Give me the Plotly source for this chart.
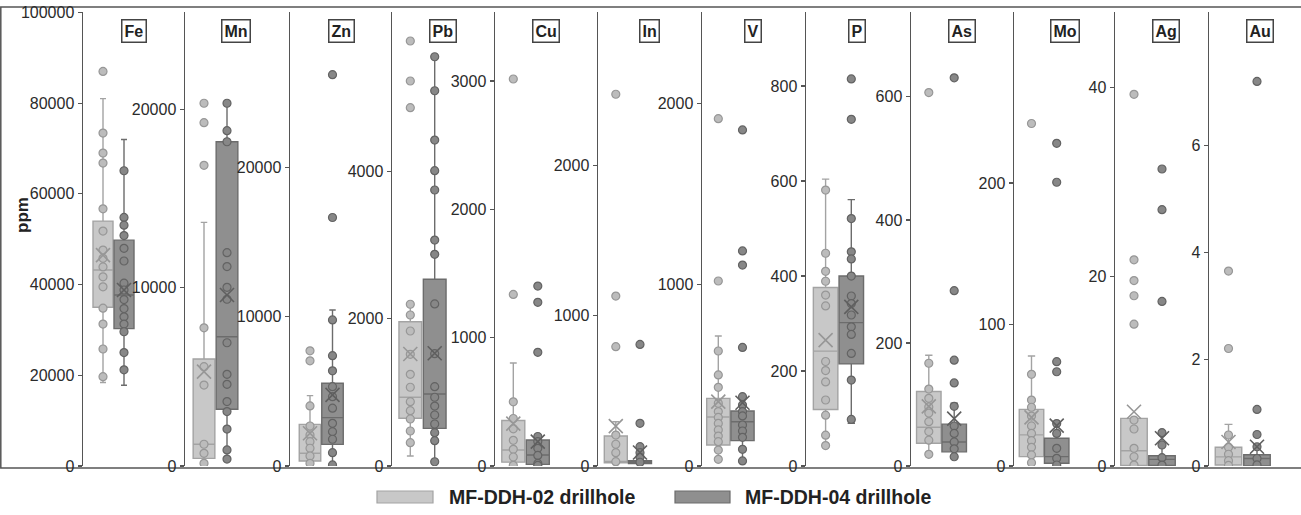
import plotly.graph_objects as go

# ---------------- data (ppm) ----------------
ELEMENTS = ["Fe", "Mn", "Zn", "Pb", "Cu", "In", "V", "P", "As", "Mo", "Ag", "Au"]
GROUPS = ["MF-DDH-02 drillhole", "MF-DDH-04 drillhole"]

# individual sample values, MF-DDH-02
FE_02 = [87000, 73400, 69000, 66800, 56700, 51800, 47600, 45800, 43900, 41700, 39500, 34800, 31300, 25800, 19700]
MN_02 = [20340, 19250, 16860, 7750, 5570, 4540, 1220, 710, 150]
ZN_02 = [7710, 7040, 4020, 2680, 2080, 1630, 1190, 670, 180]
PB_02 = [5776, 5232, 4870, 2198, 2052, 1835, 1518, 1246, 1070, 874, 752, 639, 476, 317]
CU_02 = [3015, 1337, 500, 370, 290, 200, 130, 70, 5]
IN_02 = [2476, 1132, 795, 206, 145, 89, 29]
V_02 = [1915, 1020, 634, 502, 434, 346, 300, 268, 235, 199, 165, 134, 88, 37]
P_02 = [581, 448, 410, 389, 360, 337, 220, 201, 177, 139, 107, 65, 43]
AS_02 = [607, 167, 125, 110, 96, 86, 72, 56, 42, 19]
MO_02 = [242, 64.8, 46.6, 41.5, 35.3, 28.3, 23, 17.9, 13.2, 7.8, 2.3]
AG_02 = [39.3, 21.8, 19.6, 18.0, 15.0, 4.86, 3.91, 1.87, 0.98, 0.1]
AU_02 = [3.65, 2.20, 0.58, 0.35, 0.22, 0.10, 0.01]

# individual sample values, MF-DDH-04
FE_04 = [65100, 54800, 53100, 50800, 48000, 45200, 40300, 38800, 36700, 34700, 32900, 31300, 29600, 25000, 21200]
MN_04 = [20340, 18800, 18180, 11960, 11180, 10020, 9350, 6910, 5140, 4580, 3610, 3050, 2070, 900, 390]
ZN_04 = [26200, 16640, 9780, 7390, 6370, 5310, 4640, 3870, 2860, 2300, 1790, 890, 70]
PB_04 = [5562, 5100, 4430, 4013, 3751, 3071, 2877, 2202, 1526, 1078, 934, 815, 693, 571, 453, 344, 58]
CU_04 = [1402, 1275, 886, 230, 190, 138, 82, 20, 5]
IN_04 = [810, 284, 129, 89, 58, 25]
V_04 = [1853, 1186, 1108, 654, 382, 336, 300, 276, 226, 193, 158, 92, 28]
P_04 = [815, 730, 521, 451, 436, 400, 358, 342, 318, 293, 277, 237, 181, 98]
AS_04 = [631, 285, 172, 135, 97, 65, 53, 39, 28, 15]
MO_04 = [228, 200.5, 73.7, 66.6, 30, 23, 12.5, 5.4, 0.7]
AG_04 = [31.4, 27.1, 17.4, 3.52, 2.22, 0.88, 0.1]
AU_04 = [7.20, 1.06, 0.59, 0.36, 0.14, 0.02]

# box statistics per element (same order as ELEMENTS)
Q1_02 = [35000, 430, 335, 648, 30, 22, 116, 119, 37, 6.6, 0.05, 0.02]
MED_02 = [43200, 1220, 850, 934, 125, 30, 270, 242, 63, 22, 1.62, 0.17]
Q3_02 = [54000, 6000, 2790, 1961, 355, 200, 373, 376, 121, 40, 5.04, 0.35]
LOW_02 = [18400, 150, 180, 136, 5, 22, 37, 43, 19, 2.3, 0.05, 0.0]
HIGH_02 = [81000, 13660, 4710, 2198, 803, 295, 717, 604, 180, 77.7, 5.04, 0.78]
MEAN_02 = [46500, 5290, 2190, 1522, 330, 266, 355, 265, 97, 34.4, 5.74, 0.45]

Q1_04 = [30300, 3180, 1450, 512, 13, 17, 140, 215, 23, 1.9, 0.05, 0.0]
MED_04 = [37700, 7250, 3240, 978, 86, 25, 244, 302, 39, 6.6, 0.7, 0.14]
Q3_04 = [49800, 18180, 5540, 2537, 203, 35, 303, 400, 68, 19.6, 1.09, 0.21]
LOW_04 = [17800, 390, 70, 58, 5, 10, 28, 90, 15, 0.7, 0.05, 0.0]
HIGH_04 = [72000, 20340, 10450, 5562, 241, 129, 382, 561, 102, 30, 3.52, 0.36]
MEAN_04 = [38800, 9590, 4760, 1532, 190, 90, 349, 335, 77, 28.5, 2.93, 0.36]

# axis scale and tick labels
YMAX = [100100, 25455, 30400, 6170, 3537, 3024, 2503, 956, 738, 320.8, 48.0, 8.50]
TICKS = [
    [0, 20000, 40000, 60000, 80000, 100000],
    [0, 10000, 20000],
    [0, 10000, 20000],
    [0, 2000, 4000],
    [0, 1000, 2000, 3000],
    [0, 1000, 2000],
    [0, 1000, 2000],
    [0, 200, 400, 600, 800],
    [0, 200, 400, 600],
    [0, 100, 200],
    [0, 20, 40],
    [0, 2, 4, 6],
]

POINTS_02 = [FE_02, MN_02, ZN_02, PB_02, CU_02, IN_02, V_02, P_02, AS_02, MO_02, AG_02, AU_02]
POINTS_04 = [FE_04, MN_04, ZN_04, PB_04, CU_04, IN_04, V_04, P_04, AS_04, MO_04, AG_04, AU_04]

# ---------------- layout (pixels) ----------------
W, H = 1301, 515
ML, MT, MB = 83, 12, 49
AX_PX = [83, 185, 290, 392, 495, 598, 702, 806, 911, 1014, 1115, 1209, 1301]
C1 = [20, 19, 20, 18.3, 18.3, 17.8, 16.3, 19.6, 17.8, 17.5, 19, 19.5]
C2 = [41, 42, 42.5, 42.7, 42.8, 42, 40.5, 45.3, 43.2, 42.7, 47, 48]
BW = [20, 21.7, 21.5, 22.7, 23, 23, 23.2, 24.5, 24.5, 24.5, 26.5, 26.5]
PW = W - ML
PH = H - MT - MB

def px_x(p):
    return (p - ML) / PW

def px_y(p):
    return (H - MB - p) / PH

STYLE = [
    dict(fill="#c8c8c8", line="#a3a3a3", pt="#bcbcbc", ptline="#979797", mean="#979797"),
    dict(fill="#8f8f8f", line="#6c6c6c", pt="#878787", ptline="#636363", mean="#5f5f5f"),
]
AXCOL = "#555555"
TXT = "#2b2b2b"
FONT = "Liberation Sans, Arial, sans-serif"

fig = go.Figure()
annotations = []
layout_axes = {}

for i, el in enumerate(ELEMENTS):
    n = "" if i == 0 else str(i + 1)
    xa, ya = "x" + n, "y" + n
    stats = [
        (Q1_02[i], MED_02[i], Q3_02[i], LOW_02[i], HIGH_02[i], MEAN_02[i], POINTS_02[i]),
        (Q1_04[i], MED_04[i], Q3_04[i], LOW_04[i], HIGH_04[i], MEAN_04[i], POINTS_04[i]),
    ]
    centers = [C1[i], C2[i]]
    for g, (q1, med, q3, lo, hi, mean, pts) in enumerate(stats):
        st = STYLE[g]
        xc = centers[g]
        fig.add_trace(go.Box(
            x=[xc], q1=[q1], median=[med], q3=[q3], lowerfence=[lo], upperfence=[hi],
            width=BW[i], fillcolor=st["fill"], line=dict(color=st["line"], width=1.4),
            whiskerwidth=0.3, boxpoints=False, xaxis=xa, yaxis=ya,
            showlegend=False, hoverinfo="skip", name=GROUPS[g],
        ))
        fig.add_trace(go.Scatter(
            x=[xc] * len(pts), y=pts, mode="markers", xaxis=xa, yaxis=ya,
            marker=dict(size=8, color=st["pt"], line=dict(color=st["ptline"], width=1.2)),
            showlegend=False, hoverinfo="skip",
        ))
        fig.add_trace(go.Scatter(
            x=[xc], y=[mean], mode="markers", xaxis=xa, yaxis=ya,
            marker=dict(symbol="x-thin", size=14, color=st["mean"],
                        line=dict(color=st["mean"], width=1.6)),
            showlegend=False, hoverinfo="skip",
        ))
    pw = AX_PX[i + 1] - AX_PX[i]
    layout_axes["xaxis" + n] = dict(
        domain=[px_x(AX_PX[i]), px_x(AX_PX[i + 1])], range=[0, pw],
        visible=False, anchor=ya, fixedrange=True,
    )
    tv = TICKS[i]
    layout_axes["yaxis" + n] = dict(
        domain=[0, 1], range=[0, YMAX[i]], anchor=xa, side="left",
        showline=True, linecolor=AXCOL, linewidth=1.5, mirror=False,
        ticks="outside", ticklen=4, tickwidth=1.2, tickcolor=AXCOL,
        tickvals=tv, ticktext=[f"{v:g}" for v in tv],
        tickfont=dict(family=FONT, size=16, color=TXT),
        showgrid=False, zeroline=False, fixedrange=True,
    )
    annotations.append(dict(
        x=51, y=px_y(31), xref=xa, yref="paper", text=f"<b>{el}</b>",
        showarrow=False, font=dict(family=FONT, size=16, color="#222"),
        bordercolor="#444", borderwidth=1.5, borderpad=2, bgcolor="white",
        xanchor="center", yanchor="middle",
    ))

annotations.append(dict(
    x=px_x(22), y=px_y(215), xref="paper", yref="paper", text="<b>ppm</b>",
    textangle=-90, showarrow=False, font=dict(family=FONT, size=17, color="#222"),
    xanchor="center", yanchor="middle",
))

shapes = [
    dict(type="rect", xref="paper", yref="paper",
         x0=px_x(0.8), x1=px_x(1303), y0=px_y(468), y1=px_y(7),
         line=dict(color=AXCOL, width=1.5), fillcolor="rgba(0,0,0,0)", layer="below"),
]

# legend (drawn manually)
LEG = [(377, 433, 447), (675, 730, 743)]
for g, (sx0, sx1, tx) in enumerate(LEG):
    shapes.append(dict(type="rect", xref="paper", yref="paper",
                       x0=px_x(sx0), x1=px_x(sx1), y0=px_y(503), y1=px_y(491),
                       fillcolor=STYLE[g]["fill"], line=dict(color=STYLE[g]["line"], width=1.2)))
    annotations.append(dict(
        x=px_x(tx), y=px_y(497), xref="paper", yref="paper", text=f"<b>{GROUPS[g]}</b>",
        showarrow=False, font=dict(family=FONT, size=19.5, color="#222"),
        xanchor="left", yanchor="middle",
    ))

fig.update_layout(
    width=W, height=H, autosize=False,
    margin=dict(l=ML, r=0, t=MT, b=MB, pad=0),
    paper_bgcolor="white", plot_bgcolor="white",
    showlegend=False, annotations=annotations, shapes=shapes,
    **layout_axes,
)

fig.write_html(
    "out.html",
    config={"displayModeBar": False, "staticPlot": True},
    post_script="document.body.style.margin='0px';document.body.style.overflow='hidden';",
)
